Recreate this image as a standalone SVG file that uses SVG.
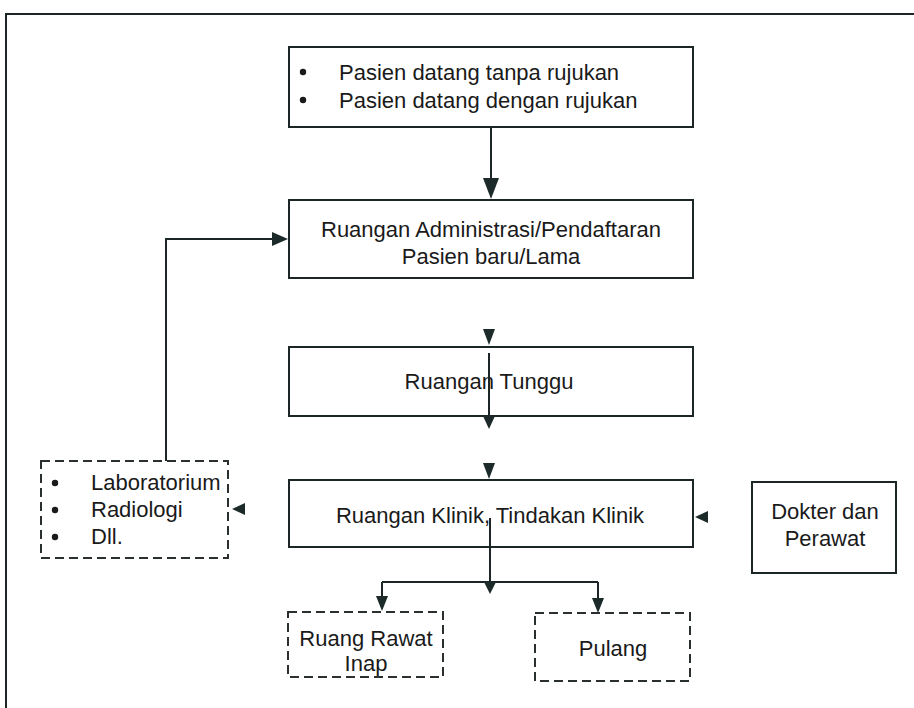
<svg xmlns="http://www.w3.org/2000/svg" width="914" height="708" viewBox="0 0 914 708">
<style>
.box{fill:none;stroke:#1c2626;stroke-width:2}
.dash{fill:none;stroke:#2a3030;stroke-width:2;stroke-dasharray:9 5}
.ln{fill:none;stroke:#1c2626;stroke-width:2}
.ah{fill:#1c2a2a;stroke:none}
.t{font-family:"Liberation Sans",Arial,sans-serif;font-size:22px;fill:#1a1a1a}
.c{text-anchor:middle}
.b{fill:#1a1a1a}
</style>
<rect width="914" height="708" fill="#ffffff"/>
<g id="frame">
<path class="ln" d="M6,708 V14 H914"/>
</g>
<g id="n-pasien">
<rect class="box" x="289" y="47" width="404" height="80"/>
<circle class="b" cx="303" cy="72" r="3.2"/>
<circle class="b" cx="303" cy="100" r="3.2"/>
<text class="t" x="339" y="80">Pasien datang tanpa rujukan</text>
<text class="t" x="339" y="108">Pasien datang dengan rujukan</text>
</g>
<g id="n-admin">
<rect class="box" x="289" y="200" width="404" height="78"/>
<text class="t c" x="491" y="237">Ruangan Administrasi/Pendaftaran</text>
<text class="t c" x="491" y="264">Pasien baru/Lama</text>
</g>
<g id="n-tunggu">
<rect class="box" x="289" y="347" width="404" height="69"/>
<text class="t c" x="489" y="389">Ruangan Tunggu</text>
</g>
<g id="n-klinik">
<rect class="box" x="289" y="480" width="404" height="67"/>
<text class="t c" x="490" y="523">Ruangan Klinik, Tindakan Klinik</text>
</g>
<g id="n-lab">
<rect class="dash" x="41" y="461" width="187" height="97"/>
<circle class="b" cx="55" cy="483" r="3.2"/>
<circle class="b" cx="55" cy="510" r="3.2"/>
<circle class="b" cx="55" cy="537" r="3.2"/>
<text class="t" x="91" y="490">Laboratorium</text>
<text class="t" x="91" y="517">Radiologi</text>
<text class="t" x="91" y="544">Dll.</text>
</g>
<g id="n-dokter">
<rect class="box" x="752" y="482" width="144" height="91"/>
<text class="t c" x="825" y="519">Dokter dan</text>
<text class="t c" x="825" y="546">Perawat</text>
</g>
<g id="n-rawat">
<rect class="dash" x="288" y="612" width="155" height="65"/>
<text class="t c" x="366" y="646">Ruang Rawat</text>
<text class="t c" x="366" y="671">Inap</text>
</g>
<g id="n-pulang">
<rect class="dash" x="535" y="613" width="155" height="68"/>
<text class="t c" x="613" y="656">Pulang</text>
</g>
<g id="connectors">
<path class="ln" d="M491,127 V180"/>
<polygon class="ah" points="483,178 499,178 491,199"/>
<path class="ln" d="M166,461 V239 H274"/>
<polygon class="ah" points="272,232 288,239 272,246"/>
<polygon class="ah" points="483,329 495,329 489,345"/>
<path class="ln" d="M489,353 V418"/>
<polygon class="ah" points="483,416 495,416 489,429"/>
<polygon class="ah" points="483,463 495,463 489,479"/>
<polygon class="ah" points="708,511 708,523 695,517"/>
<polygon class="ah" points="245,503 245,515 232,509"/>
<path class="ln" d="M490,518 V582 M382,582 H598 M382,582 V598 M598,582 V600"/>
<polygon class="ah" points="484,582 496,582 490,594"/>
<polygon class="ah" points="376,596 388,596 382,611"/>
<polygon class="ah" points="592,598 604,598 598,613"/>
</g>
</svg>
